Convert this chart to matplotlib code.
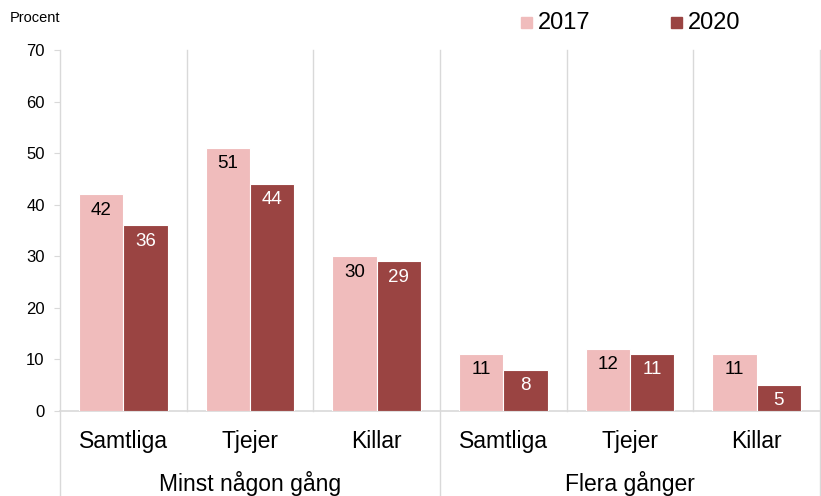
import matplotlib
matplotlib.use("Agg")
import matplotlib.pyplot as plt
import matplotlib.transforms as mtransforms
import numpy as np

plt.rcParams['font.family'] = ['Liberation Sans', 'DejaVu Sans']

categories = ["Samtliga", "Tjejer", "Killar", "Samtliga", "Tjejer", "Killar"]
groups = ["Minst någon gång", "Flera gånger"]
series_names = ["2017", "2020"]
values_2017 = [42, 51, 30, 11, 12, 11]
values_2020 = [36, 44, 29, 8, 11, 5]
yticks = [0, 10, 20, 30, 40, 50, 60, 70]

c17 = "#F0BCBC"
c20 = "#9A4442"
grid_c = "#D9D9D9"

fig = plt.figure(figsize=(8.21, 4.96), dpi=100)
ax = fig.add_axes([60/821, 1 - 411/496, 760/821, 361/496])

x = np.arange(len(categories))
w = 0.35
b1 = ax.bar(x - w/2, values_2017, width=w, color=c17, edgecolor="white", linewidth=0.8, label=series_names[0], zorder=3)
b2 = ax.bar(x + w/2, values_2020, width=w, color=c20, edgecolor="white", linewidth=0.8, label=series_names[1], zorder=3)

for rect, v in zip(b1, values_2017):
    ax.text(rect.get_x() + rect.get_width()/2, v - 1.4, str(v), ha="center", va="top",
            fontsize=13.5, color="black", zorder=4)
for rect, v in zip(b2, values_2020):
    ax.text(rect.get_x() + rect.get_width()/2, v - 1.4, str(v), ha="center", va="top",
            fontsize=13.5, color="white", zorder=4)

ax.set_xlim(-0.5, len(categories) - 0.5)
ax.set_ylim(0, 70)
ax.set_yticks(yticks)
ax.set_yticklabels([str(t) for t in yticks], fontsize=12)
ax.tick_params(axis="y", length=4, color=grid_c, pad=7)
ax.tick_params(axis="x", length=0, labelbottom=False)

for s in ["top", "right", "left"]:
    ax.spines[s].set_visible(False)
ax.spines["bottom"].set_color(grid_c)
ax.spines["bottom"].set_linewidth(1.2)

trans = mtransforms.blended_transform_factory(ax.transData, ax.transAxes)
# minor separators
for sep in [0.5, 1.5, 3.5, 4.5]:
    ax.plot([sep, sep], [0, 1], transform=trans, color=grid_c, lw=1, zorder=1, clip_on=False)
# major separators extending below
for sep in [-0.5, 2.5, 5.5]:
    ax.plot([sep, sep], [-0.25, 1], transform=trans, color=grid_c, lw=1, zorder=1, clip_on=False)

for xi, cat in zip(x, categories):
    ax.text(xi, -0.085, cat, transform=trans, ha="center", va="center", fontsize=16.5)
ax.text(1, -0.2, groups[0], transform=trans, ha="center", va="center", fontsize=16.5)
ax.text(4, -0.2, groups[1], transform=trans, ha="center", va="center", fontsize=16.5)

fig.text(10/821, 1 - 18/496, "Procent", fontsize=10.5, ha="left", va="center")

# legend
fig.patches.append(plt.Rectangle((521/821, 1 - 28/496), 11/821, 11/496, transform=fig.transFigure, color=c17))
fig.text(538/821, 1 - 23/496, series_names[0], fontsize=17, ha="left", va="center")
fig.patches.append(plt.Rectangle((671/821, 1 - 28/496), 11/821, 11/496, transform=fig.transFigure, color=c20))
fig.text(688/821, 1 - 23/496, series_names[1], fontsize=17, ha="left", va="center")

fig.savefig("out.png", dpi=100)
